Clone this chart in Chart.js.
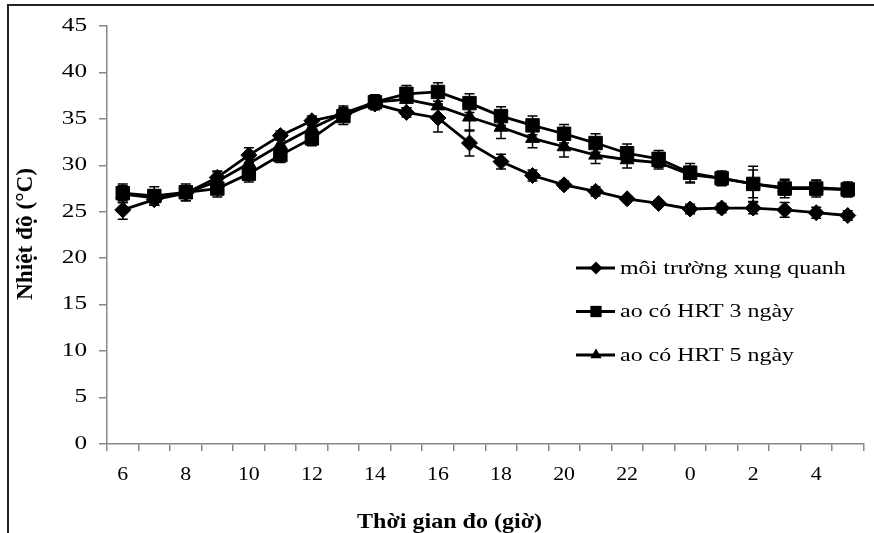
<!DOCTYPE html>
<html>
<head>
<meta charset="utf-8">
<script src="https://cdn.jsdelivr.net/npm/chart.js@4.4.1/dist/chart.umd.min.js"></script>
<style>
  html, body { margin: 0; padding: 0; background: #fff; overflow: hidden; }
  #wrap { position: relative; width: 874px; height: 533px; overflow: hidden; }
  #frame { position: absolute; left: 7px; top: 4px; width: 2000px; height: 2000px;
           border-left: 2px solid #222; border-top: 2px solid #222; pointer-events: none; }
  canvas { position: absolute; left: 0; top: 0; }
</style>
</head>
<body>
<div id="wrap">
  <canvas id="c" width="874" height="533"></canvas>
  <div id="frame"></div>
</div>
<script>
// ---- data ----
const hours = ['6','7','8','9','10','11','12','13','14','15','16','17','18','19','20','21','22','23','0','1','2','3','4','5'];
const seriesNames = ['môi trường xung quanh', 'ao có HRT 3 ngày', 'ao có HRT 5 ngày'];
const ambient = [25.2, 26.3, 27.0, 28.7, 31.1, 33.2, 34.8, 35.5, 36.6, 35.7, 35.1, 32.4, 30.4, 28.9, 27.9, 27.2, 26.4, 25.9, 25.3, 25.4, 25.4, 25.2, 24.9, 24.6];
const hrt3 = [27.0, 26.7, 27.1, 27.5, 29.1, 31.1, 32.9, 35.3, 36.8, 37.7, 37.9, 36.7, 35.3, 34.3, 33.4, 32.4, 31.3, 30.7, 29.2, 28.6, 28.0, 27.5, 27.5, 27.4];
const hrt5 = [26.9, 26.5, 27.0, 28.3, 30.2, 32.2, 34.0, 35.6, 36.8, 37.1, 36.4, 35.2, 34.1, 32.9, 32.0, 31.1, 30.6, 30.3, 29.0, 28.6, 28.0, 27.6, 27.6, 27.4];
const errAmbient = [1.0, 0.6, 0.5, 0.7, 0.8, 0.5, 0.5, 0.6, 0.6, 0.5, 1.5, 1.4, 0.8, 0.6, 0.4, 0.5, 0.3, 0.3, 0.5, 0.5, 0.6, 0.8, 0.6, 0.5];
const errHrt3 = [1.0, 1.0, 0.9, 0.9, 0.9, 0.8, 0.8, 0.9, 0.8, 0.9, 1.0, 1.0, 1.0, 1.0, 1.0, 1.0, 1.0, 0.9, 1.0, 0.8, 1.9, 1.0, 0.9, 0.8];
const errHrt5 = [0.9, 0.8, 0.8, 1.0, 0.9, 0.8, 0.8, 0.8, 0.8, 0.9, 1.0, 1.5, 1.2, 1.0, 1.1, 0.9, 0.9, 0.7, 0.9, 0.7, 1.5, 0.8, 0.8, 0.7];
const yTickStep = 5;
const yMin = 0, yMax = 45;
const xTitle = 'Thời gian đo (giờ)';
const yTitle = 'Nhiệt độ (°C)';

// ---- horizontally stretched text for tick labels (the reference is stretched) ----
const _fill = CanvasRenderingContext2D.prototype.fillText;
CanvasRenderingContext2D.prototype.fillText = function (t, x, y) {
  const s = this.textAlign === 'right' ? 1.4 : 1.15;
  this.save();
  this.translate(x, y);
  this.scale(s, 1);
  _fill.call(this, t, 0, 0);
  this.restore();
};

const SERIF = '"Liberation Serif", "Times New Roman", serif';
const styles = ['rectRot', 'rect', 'triangle'];
const radii = [8, 9.5, 8];
const errs = [errAmbient, errHrt3, errHrt5];

function drawMarker(ctx, style, r, x, y) {
  ctx.beginPath();
  if (style === 'rectRot') {
    ctx.moveTo(x - r, y); ctx.lineTo(x, y - r); ctx.lineTo(x + r, y); ctx.lineTo(x, y + r);
  } else if (style === 'rect') {
    const s = r * Math.SQRT1_2;
    ctx.rect(x - s, y - s, 2 * s, 2 * s);
  } else {
    for (let k = 0; k < 3; k++) {
      const a = k * 2 * Math.PI / 3;
      const px = x + Math.sin(a) * r, py = y - Math.cos(a) * r;
      if (k === 0) ctx.moveTo(px, py); else ctx.lineTo(px, py);
    }
  }
  ctx.closePath();
  ctx.fill();
}

const errorBars = {
  id: 'errorBars',
  afterDatasetsDraw(chart) {
    const ctx = chart.ctx;
    const ys = chart.scales.y;
    ctx.save();
    ctx.strokeStyle = '#000';
    ctx.lineWidth = 1.5;
    chart.data.datasets.forEach((ds, di) => {
      const meta = chart.getDatasetMeta(di);
      meta.data.forEach((pt, i) => {
        const v = ds.data[i], e = errs[di][i];
        const x = pt.x;
        const yTop = ys.getPixelForValue(v + e), yBot = ys.getPixelForValue(v - e);
        ctx.beginPath();
        ctx.moveTo(x, yTop); ctx.lineTo(x, yBot);
        ctx.moveTo(x - 5, yTop); ctx.lineTo(x + 5, yTop);
        ctx.moveTo(x - 5, yBot); ctx.lineTo(x + 5, yBot);
        ctx.stroke();
      });
    });
    ctx.restore();
  }
};

const extras = {
  id: 'extras',
  afterDraw(chart) {
    const ctx = chart.ctx;
    ctx.save();
    ctx.fillStyle = '#000';
    ctx.strokeStyle = '#000';
    // legend
    const rows = [268, 311.5, 355];
    chart.data.datasets.forEach((ds, di) => {
      const y = rows[di];
      ctx.lineWidth = 2.8;
      ctx.beginPath(); ctx.moveTo(576, y); ctx.lineTo(615, y); ctx.stroke();
      drawMarker(ctx, styles[di], radii[di] - 1.5, 596, y);
      ctx.save();
      ctx.font = '19px ' + SERIF;
      ctx.textAlign = 'left';
      ctx.textBaseline = 'middle';
      ctx.translate(620, y + 1);
      ctx.scale(1.26, 1);
      _fill.call(ctx, ds.label, 0, 0);
      ctx.restore();
    });
    // y title
    ctx.save();
    ctx.font = 'bold 18px ' + SERIF;
    ctx.textAlign = 'center';
    ctx.textBaseline = 'middle';
    let w = ctx.measureText(yTitle).width;
    ctx.translate(26, 234);
    ctx.rotate(-Math.PI / 2);
    ctx.scale(132 / w, 1.3);
    _fill.call(ctx, yTitle, 0, 0);
    ctx.restore();
    // x title
    ctx.save();
    ctx.font = 'bold 18px ' + SERIF;
    ctx.textAlign = 'center';
    ctx.textBaseline = 'alphabetic';
    w = ctx.measureText(xTitle).width;
    ctx.translate(449.5, 528);
    ctx.scale(185 / w, 1.2);
    _fill.call(ctx, xTitle, 0, 0);
    ctx.restore();
    ctx.restore();
  }
};

const seriesData = [ambient, hrt3, hrt5];
new Chart(document.getElementById('c'), {
  type: 'line',
  data: {
    labels: hours,
    datasets: seriesData.map((d, i) => ({
      label: seriesNames[i],
      data: d,
      borderColor: '#000',
      backgroundColor: '#000',
      borderWidth: 2.8,
      pointStyle: styles[i],
      pointRadius: radii[i],
      pointBackgroundColor: '#000',
      pointBorderColor: '#000',
      pointBorderWidth: 1,
      tension: 0,
      fill: false
    }))
  },
  options: {
    responsive: false,
    animation: false,
    devicePixelRatio: 1,
    layout: { padding: { top: 26, right: 2, left: 0, bottom: 0 } },
    plugins: { legend: { display: false }, tooltip: { enabled: false } },
    scales: {
      x: {
        type: 'category',
        offset: true,
        grid: { offset: true, drawOnChartArea: false, drawTicks: true, tickLength: 7, color: '#888', lineWidth: 1.5 },
        border: { color: '#888', width: 1.5 },
        ticks: {
          autoSkip: false, maxRotation: 0, minRotation: 0, padding: 13,
          color: '#000', font: { family: SERIF, size: 19 },
          callback: (v, i) => (i % 2 === 0 ? hours[i] : '')
        },
        afterFit: (s) => { s.height = 89; }
      },
      y: {
        min: yMin, max: yMax,
        grid: { drawOnChartArea: false, drawTicks: true, tickLength: 8, color: '#888', lineWidth: 1.5 },
        border: { color: '#888', width: 1.5 },
        ticks: { stepSize: yTickStep, padding: 12, color: '#000', font: { family: SERIF, size: 18 } },
        afterFit: (s) => { s.width = 107; }
      }
    }
  },
  plugins: [errorBars, extras]
});
</script>
</body>
</html>
